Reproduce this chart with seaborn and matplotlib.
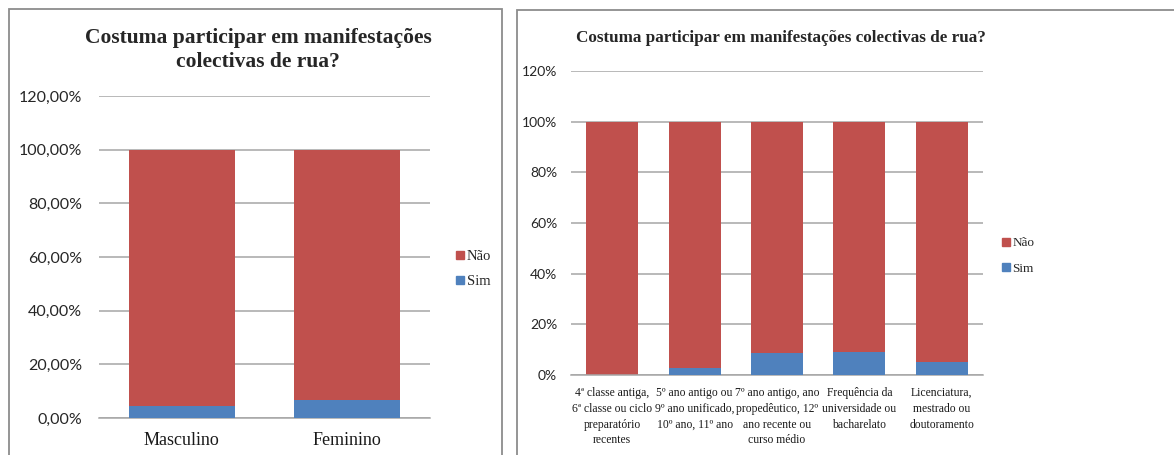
import matplotlib
matplotlib.use("Agg")
import matplotlib.pyplot as plt
import matplotlib.transforms as mtransforms
import seaborn as sns
from matplotlib.lines import Line2D
from matplotlib.patches import Rectangle

# ---- data ----
title = "Costuma participar em manifestações colectivas de rua?"
left_cats = ["Masculino", "Feminino"]
left_sim = [4.6, 6.8]
left_nao = [95.4, 93.2]
left_yticks = [0, 20, 40, 60, 80, 100, 120]
left_yticklabels = ["0,00%", "20,00%", "40,00%", "60,00%", "80,00%", "100,00%", "120,00%"]

right_cats = [
    "4ª classe antiga,\n6ª classe ou ciclo\npreparatório\nrecentes",
    "5º ano antigo ou\n9º ano unificado,\n10º ano, 11º ano",
    "7º ano antigo, ano\npropedêutico, 12º\nano recente ou\ncurso médio",
    "Frequência da\nuniversidade ou\nbacharelato",
    "Licenciatura,\nmestrado ou\ndoutoramento",
]
right_sim = [0.0, 2.9, 8.7, 9.1, 5.2]
right_nao = [100.0, 97.1, 91.3, 90.9, 94.8]
right_yticks = [0, 20, 40, 60, 80, 100, 120]
right_yticklabels = ["0%", "20%", "40%", "60%", "80%", "100%", "120%"]

series_names = ["Não", "Sim"]
RED = "#C0504D"
BLUE = "#4F81BD"
GRID = "#A6A6A6"
FRAME = "#8C8C8C"
SERIF = "Liberation Serif"
SANS = "Lato"

sns.set_theme(style="white")
plt.rcParams["font.family"] = ["Liberation Serif", "DejaVu Sans"]

W, H = 1174, 455
fig = plt.figure(figsize=(W / 100, H / 100), dpi=100)
fig.patch.set_facecolor("white")

def fx(px):
    return px / W

def fy(py):
    return 1 - py / H

# frames
fig.add_artist(Rectangle((fx(9), fy(470)), fx(502 - 9), (470 - 9) / H,
                         transform=fig.transFigure, fill=False, edgecolor=FRAME, linewidth=1.3))
fig.add_artist(Rectangle((fx(517), fy(470)), fx(700), (470 - 10) / H,
                         transform=fig.transFigure, fill=False, edgecolor=FRAME, linewidth=1.3))


def draw(ax, cats, sim, nao, yticks, yticklabels, width, ysize, ypad):
    totals = [s + n for s, n in zip(sim, nao)]
    sns.barplot(x=cats, y=totals, color=RED, saturation=1, width=width, ax=ax,
                zorder=2, linewidth=0, edgecolor="none")
    sns.barplot(x=cats, y=sim, color=BLUE, saturation=1, width=width, ax=ax,
                zorder=3, linewidth=0, edgecolor="none")
    ax.set_ylim(0, 120)
    ax.set_xlim(-0.5, len(cats) - 0.5)
    ax.set_yticks(yticks)
    ax.set_yticklabels(yticklabels, fontfamily=SANS, fontsize=ysize, color="#262626")
    ax.tick_params(axis="y", length=0, pad=ypad)
    ax.tick_params(axis="x", length=0)
    ax.yaxis.grid(True, color=GRID, linewidth=1.1, zorder=0)
    ax.set_axisbelow(True)
    for s in ["top", "right", "left"]:
        ax.spines[s].set_visible(False)
    ax.spines["bottom"].set_color(GRID)
    ax.spines["bottom"].set_linewidth(1.1)
    ax.set_xlabel("")
    ax.set_ylabel("")
    ax.set_facecolor("white")


def xlabels(ax, cats, size, offset_px, lsp):
    ax.set_xticks(range(len(cats)))
    ax.set_xticklabels([""] * len(cats))
    trans = mtransforms.blended_transform_factory(ax.transData, ax.transAxes)
    h_px = ax.get_position().height * H
    for i, c in enumerate(cats):
        ax.text(i, -offset_px / h_px, c, transform=trans, ha="center", va="top",
                fontfamily=SERIF, fontsize=size, color="#1a1a1a",
                linespacing=lsp, multialignment="center")


# left chart
axL = fig.add_axes([fx(99), fy(418), fx(430 - 99), (418 - 96) / H])
draw(axL, left_cats, left_sim, left_nao, left_yticks, left_yticklabels, 0.64, 11.5, 12)
xlabels(axL, left_cats, 13, 14, 1.2)
fig.text(fx(258), fy(50), "Costuma participar em manifestações\ncolectivas de rua?",
         ha="center", va="center", fontfamily=SERIF, fontweight="bold",
         fontsize=15.5, linespacing=1.28)

# right chart
axR = fig.add_axes([fx(571), fy(375), fx(983 - 571), (375 - 71) / H])
draw(axR, right_cats, right_sim, right_nao, right_yticks, right_yticklabels, 0.63, 10, 10)
xlabels(axR, right_cats, 8.4, 12, 1.42)
fig.text(fx(781), fy(38), title, ha="center", va="center", fontfamily=SERIF,
         fontweight="bold", fontsize=12.3)

# legends
handles = [Line2D([], [], marker="s", linestyle="none", markersize=5.5,
                  markerfacecolor=c, markeredgecolor=c) for c in (RED, BLUE)]
fig.legend(handles, series_names, loc="center left", bbox_to_anchor=(fx(450), fy(269)),
           frameon=False, prop={"family": SERIF, "size": 10.5}, handlelength=0.6,
           handletextpad=0.15, labelspacing=0.8, borderaxespad=0)
fig.legend(handles, series_names, loc="center left", bbox_to_anchor=(fx(997), fy(256)),
           frameon=False, prop={"family": SERIF, "size": 9.5}, handlelength=0.6,
           handletextpad=0.15, labelspacing=1.0, borderaxespad=0)

fig.savefig("out.png", dpi=100, facecolor="white")
